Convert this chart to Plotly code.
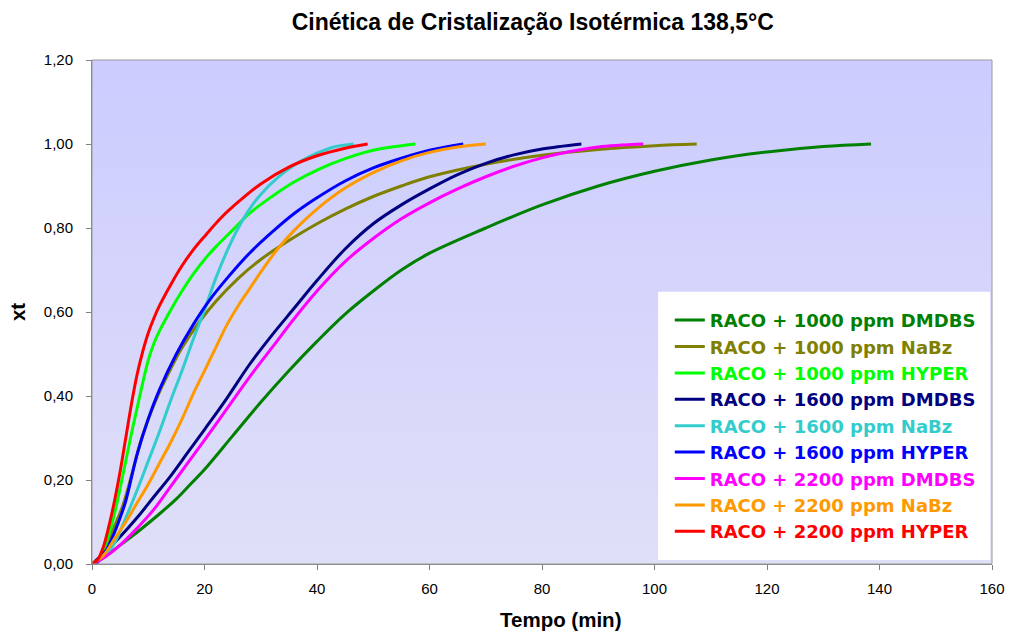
import base64
import plotly.graph_objects as go

# Crystallisation kinetics: relative crystallinity xt versus time (min)
t_dmdbs_1000 = [0, 2, 5, 7.5, 10, 12.5, 15, 17.5, 20, 25, 30, 35, 40, 45, 50, 55, 60, 70, 80, 90, 100, 110, 120, 130, 138.5]
x_dmdbs_1000 = [0, 0.015, 0.045, 0.07, 0.097, 0.125, 0.155, 0.19, 0.225, 0.305, 0.385, 0.46, 0.53, 0.595, 0.65, 0.70, 0.74, 0.80, 0.855, 0.90, 0.935, 0.962, 0.981, 0.994, 1.0]

t_nabz_1000 = [0, 1, 2.5, 4, 5.5, 7, 8.5, 10, 12, 14, 16, 19, 22, 26, 30, 35, 40, 45, 50, 55, 60, 70, 80, 90, 100, 107.5]
x_nabz_1000 = [0, 0.01, 0.045, 0.09, 0.14, 0.21, 0.285, 0.345, 0.41, 0.465, 0.515, 0.575, 0.625, 0.68, 0.725, 0.77, 0.81, 0.845, 0.875, 0.9, 0.922, 0.952, 0.973, 0.987, 0.996, 1.0]

t_hyper_1000 = [0, 1, 2, 3, 4, 5, 6, 7, 8, 9, 10, 11, 12, 14, 16, 18, 20, 22, 25, 28, 32, 36, 40, 45, 50, 57.5]
x_hyper_1000 = [0, 0.005, 0.03, 0.07, 0.12, 0.18, 0.245, 0.31, 0.37, 0.43, 0.485, 0.525, 0.555, 0.605, 0.65, 0.69, 0.725, 0.755, 0.795, 0.835, 0.875, 0.91, 0.938, 0.965, 0.985, 1.0]

t_dmdbs_1600 = [0, 2, 5, 8, 11, 14, 17, 20, 24, 28, 32, 36, 40, 45, 50, 55, 60, 65, 70, 75, 80, 87]
x_dmdbs_1600 = [0, 0.025, 0.065, 0.11, 0.16, 0.21, 0.265, 0.32, 0.395, 0.475, 0.545, 0.61, 0.675, 0.75, 0.81, 0.855, 0.893, 0.927, 0.954, 0.974, 0.988, 1.0]

t_nabz_1600 = [0, 2, 4, 6, 8, 10, 12, 14, 16, 18, 20, 22, 24, 26, 28, 30, 33, 36, 40, 43, 46.5]
x_nabz_1600 = [0, 0.015, 0.05, 0.11, 0.175, 0.245, 0.315, 0.39, 0.46, 0.535, 0.605, 0.68, 0.745, 0.8, 0.845, 0.88, 0.92, 0.95, 0.978, 0.993, 1.0]

t_hyper_1600 = [0, 1, 2, 3, 4, 5, 6, 8, 10, 12, 15, 18, 21, 24, 28, 32, 36, 40, 45, 50, 55, 60, 66]
x_hyper_1600 = [0, 0.005, 0.02, 0.045, 0.075, 0.11, 0.15, 0.26, 0.345, 0.415, 0.5, 0.57, 0.63, 0.68, 0.74, 0.79, 0.835, 0.872, 0.912, 0.943, 0.966, 0.985, 1.0]

t_dmdbs_2200 = [0, 2, 5, 8, 11, 14, 17, 20, 24, 28, 32, 36, 40, 45, 50, 55, 60, 65, 70, 75, 80, 85, 90, 98]
x_dmdbs_2200 = [0, 0.014, 0.045, 0.085, 0.13, 0.185, 0.24, 0.295, 0.37, 0.445, 0.515, 0.585, 0.65, 0.72, 0.775, 0.822, 0.86, 0.893, 0.922, 0.947, 0.967, 0.982, 0.993, 1.0]

t_nabz_2200 = [0, 2, 4, 6, 8, 10, 12, 14, 16, 18, 20, 22, 24, 26, 28, 30, 33, 36, 40, 45, 50, 55, 60, 65, 70]
x_nabz_2200 = [0, 0.02, 0.06, 0.1, 0.145, 0.19, 0.24, 0.29, 0.345, 0.405, 0.46, 0.515, 0.57, 0.615, 0.655, 0.695, 0.75, 0.795, 0.845, 0.895, 0.932, 0.96, 0.98, 0.993, 1.0]

t_hyper_2200 = [0, 1, 2, 3, 4, 5, 6, 7, 8, 9, 10, 11, 12, 14, 16, 18, 20, 23, 26, 30, 35, 40, 45, 49]
x_hyper_2200 = [0, 0.01, 0.04, 0.09, 0.15, 0.22, 0.30, 0.38, 0.45, 0.505, 0.55, 0.585, 0.615, 0.665, 0.71, 0.748, 0.78, 0.825, 0.862, 0.905, 0.945, 0.972, 0.99, 1.0]

series_names = [
    "RACO + 1000 ppm DMDBS", "RACO + 1000 ppm NaBz", "RACO + 1000 ppm HYPER",
    "RACO + 1600 ppm DMDBS", "RACO + 1600 ppm NaBz", "RACO + 1600 ppm HYPER",
    "RACO + 2200 ppm DMDBS", "RACO + 2200 ppm NaBz", "RACO + 2200 ppm HYPER",
]
series_colors = ["#008000", "#808000", "#00FF00", "#000080", "#33CCCC",
                 "#0000FF", "#FF00FF", "#FF9900", "#FF0000"]
series_t = [t_dmdbs_1000, t_nabz_1000, t_hyper_1000, t_dmdbs_1600, t_nabz_1600,
            t_hyper_1600, t_dmdbs_2200, t_nabz_2200, t_hyper_2200]
series_x = [x_dmdbs_1000, x_nabz_1000, x_hyper_1000, x_dmdbs_1600, x_nabz_1600,
            x_hyper_1600, x_dmdbs_2200, x_nabz_2200, x_hyper_2200]

x_ticks = [0, 20, 40, 60, 80, 100, 120, 140, 160]
y_ticks = [0, 0.2, 0.4, 0.6, 0.8, 1.0, 1.2]

FONT = "Arial, Liberation Sans, sans-serif"
LEGEND_FONT = "DejaVu Sans, Arial, sans-serif"

fig = go.Figure()
for name, color, t, x in zip(series_names, series_colors, series_t, series_x):
    fig.add_trace(go.Scatter(
        x=t, y=x, mode="lines",
        line=dict(color=color, width=3, shape="spline", smoothing=1.0),
        name=f"<span style='color:{color}'><b>{name}</b></span>",
    ))

# vertical lavender gradient behind the plotting area
svg = ('<svg xmlns="http://www.w3.org/2000/svg" width="100" height="100" preserveAspectRatio="none">'
       '<defs><linearGradient id="g" x1="0" y1="0" x2="0" y2="1">'
       '<stop offset="0" stop-color="#CCCCFF"/><stop offset="1" stop-color="#DFDFF8"/>'
       '</linearGradient></defs><rect width="100" height="100" fill="url(#g)"/></svg>')
bg_src = "data:image/svg+xml;base64," + base64.b64encode(svg.encode()).decode()

fig.update_layout(
    width=1011, height=633,
    margin=dict(l=92, r=19, t=60, b=69, autoexpand=False),
    paper_bgcolor="white",
    plot_bgcolor="#D6D6FB",
    separators=",.",
    font=dict(family=FONT, size=15, color="black"),
    title=dict(text="<b>Cinética de Cristalização Isotérmica 138,5°C</b>",
               x=0.527, xanchor="center", y=0.966, yanchor="middle",
               font=dict(family=FONT, size=23, color="black")),
    images=[dict(source=bg_src, xref="paper", yref="paper", x=0, y=1,
                 sizex=1, sizey=1, sizing="stretch", xanchor="left",
                 yanchor="top", layer="below")],
    shapes=[
        dict(type="rect", xref="paper", yref="paper", x0=0.629, x1=0.998,
             y0=0.008, y1=0.54, fillcolor="white", line=dict(width=0), layer="below"),
        dict(type="rect", xref="paper", yref="paper", x0=0, x1=1, y0=0, y1=1,
             line=dict(color="#9A9A9A", width=1), layer="above"),
    ],
    annotations=[
        dict(text="<b>Tempo (min)</b>", xref="paper", yref="paper",
             x=0.52, y=-0.11, xanchor="center", yanchor="middle",
             showarrow=False, font=dict(family=FONT, size=20.5, color="black")),
    ],
    legend=dict(x=0.642, y=0.52, xanchor="left", yanchor="top",
                bgcolor="rgba(0,0,0,0)", borderwidth=0,
                font=dict(family=LEGEND_FONT, size=18), itemwidth=30),
    xaxis=dict(range=[0, 160], tickvals=x_ticks, showgrid=False, zeroline=False,
               showline=True, linecolor="#808080", linewidth=1,
               ticks="outside", ticklen=5, tickcolor="#808080",
               tickfont=dict(size=15), ticklabelstandoff=6, automargin=False),
    yaxis=dict(range=[0, 1.2], tickvals=y_ticks, tickformat=".2f", showgrid=False,
               zeroline=False, showline=True, linecolor="#808080", linewidth=1,
               ticks="outside", ticklen=5, tickcolor="#808080",
               tickfont=dict(size=15), ticklabelstandoff=10, automargin=False,
               title=dict(text="<b>xt</b>", font=dict(size=20.5), standoff=12)),
)

fig.write_html("out.html")
